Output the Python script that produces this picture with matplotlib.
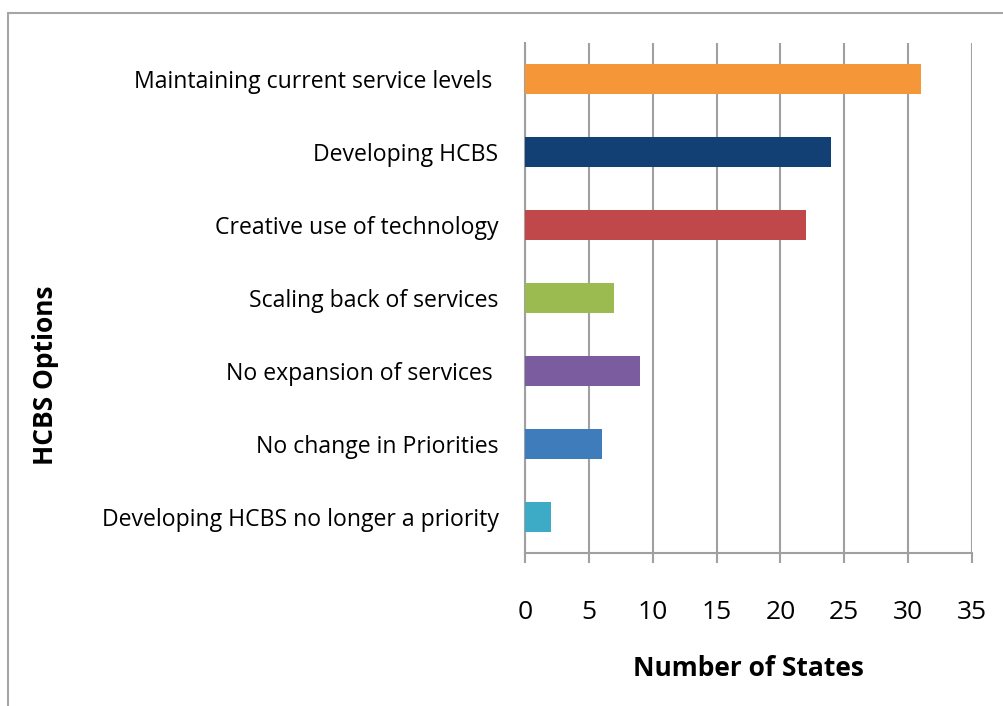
import matplotlib
matplotlib.use("Agg")
import matplotlib.pyplot as plt
import numpy as np
from matplotlib.patches import Rectangle

# --------------------------
# Data (top to bottom as shown)
# --------------------------
options = [
    "Maintaining current service levels ",
    "Developing HCBS",
    "Creative use of technology",
    "Scaling back of services",
    "No expansion of services ",
    "No change in Priorities",
    "Developing HCBS no longer a priority",
]
num_states = [31, 24, 22, 7, 9, 6, 2]
bar_colors = ["#F59638", "#134074", "#C0474A", "#9BBB50", "#7B5C9E", "#3F7CBC", "#3DAAC6"]
x_ticks = [0, 5, 10, 15, 20, 25, 30, 35]

plt.rcParams['font.family'] = ['Open Sans', 'DejaVu Sans']

fig = plt.figure(figsize=(10.04, 7.06), dpi=100)
ax = fig.add_axes([0.5229, 0.2167, 0.4452, 0.7224])

# outer chart frame (runs off the right/bottom edges like the original)
fig.patches.append(Rectangle((8 / 1004, -0.05), 1.1, 1 - 13 / 706 + 0.05,
                             transform=fig.transFigure, fill=False,
                             edgecolor="#A6A6A6", linewidth=1.5))

y = np.arange(len(options))
ax.barh(y, num_states, height=0.41, color=bar_colors, zorder=3)
ax.set_ylim(len(options) - 0.5, -0.5)
ax.set_xlim(0, 35)

ax.set_yticks(y)
ax.set_yticklabels(options, fontsize=16.6)
ax.set_xticks(x_ticks)
ax.set_xticklabels([str(t) for t in x_ticks], fontsize=19)
ax.tick_params(axis='y', length=0, pad=19)
ax.tick_params(axis='x', length=7, width=1.5, color="#A0A0A0", pad=27)

ax.grid(axis='x', color="#A0A0A0", linewidth=1.5, zorder=0)
for s in ['top', 'right']:
    ax.spines[s].set_visible(False)
for s in ['left', 'bottom']:
    ax.spines[s].set_color("#A0A0A0")
    ax.spines[s].set_linewidth(1.5)

ax.set_xlabel("Number of States", fontsize=19, fontweight='bold')
ax.xaxis.set_label_coords(0.5, -0.2)
ax.set_ylabel("HCBS Options", fontsize=19, fontweight='bold')
ax.yaxis.set_label_coords(-1.043, 0.349)

plt.savefig('out.png', dpi=100)
